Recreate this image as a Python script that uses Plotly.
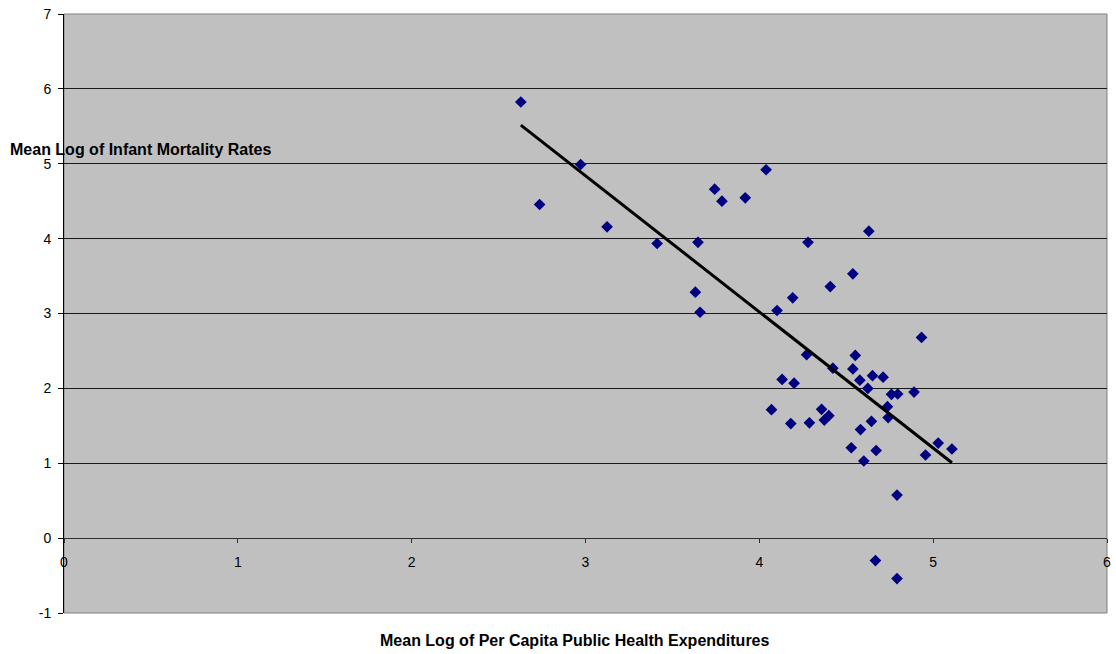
import numpy as np
import plotly.graph_objects as go

# Mean log of per capita public health expenditures
health_exp = [2.628, 2.736, 2.972, 3.124, 3.412, 3.647, 3.632, 3.659, 3.743, 3.785,
              3.919, 4.039, 4.280, 4.102, 4.192, 4.272, 4.630, 4.538, 4.408, 4.933,
              4.552, 4.423, 4.538, 4.131, 4.200, 4.578, 4.651, 4.712, 4.624, 4.760,
              4.796, 4.890, 4.070, 4.358, 4.737, 4.400, 4.374, 4.181, 4.288, 4.741,
              4.645, 4.582, 4.529, 4.672, 4.601, 4.956, 5.029, 5.108, 4.792, 4.668,
              4.792]
# Mean log of infant mortality rates
infant_mort = [5.825, 4.456, 4.990, 4.158, 3.935, 3.950, 3.285, 3.017, 4.660, 4.500,
               4.545, 4.920, 3.950, 3.040, 3.210, 2.450, 4.100, 3.530, 3.360, 2.680,
               2.440, 2.270, 2.260, 2.120, 2.070, 2.110, 2.170, 2.150, 2.000, 1.920,
               1.925, 1.950, 1.715, 1.720, 1.755, 1.635, 1.577, 1.530, 1.540, 1.610,
               1.560, 1.450, 1.207, 1.170, 1.030, 1.110, 1.270, 1.190, 0.575, -0.300,
               -0.540]

x_ticks = [0, 1, 2, 3, 4, 5, 6]
y_ticks = [-1, 0, 1, 2, 3, 4, 5, 6, 7]

x_title = "Mean Log of Per Capita Public Health Expenditures"
y_title = "Mean Log of Infant Mortality Rates"

# Linear trend line (least squares) over data range
slope, intercept = np.polyfit(health_exp, infant_mort, 1)
trend_x = [min(health_exp), max(health_exp)]
trend_y = [intercept + slope * v for v in trend_x]

FONT = "Liberation Sans, Arial, sans-serif"

fig = go.Figure()
fig.add_trace(go.Scatter(
    x=health_exp, y=infant_mort, mode="markers",
    marker=dict(symbol="diamond", size=9, color="#000080",
                line=dict(width=0)),
    showlegend=False, hoverinfo="skip",
))
fig.add_trace(go.Scatter(
    x=trend_x, y=trend_y, mode="lines",
    line=dict(color="black", width=3),
    showlegend=False, hoverinfo="skip",
))

fig.update_layout(
    width=1116, height=654,
    margin=dict(l=64, r=5, t=14, b=41),
    paper_bgcolor="white",
    plot_bgcolor="#C0C0C0",
    font=dict(family=FONT, size=14, color="black"),
    xaxis=dict(
        range=[0, 6], tickvals=x_ticks, ticktext=[str(v) for v in x_ticks],
        showgrid=False, zeroline=False,
        showline=True, linecolor="#303030", linewidth=1,
        ticks="outside", ticklen=4, tickcolor="#303030",
        anchor="free", position=0.125,
        ticklabelstandoff=7,
        tickfont=dict(size=14),
    ),
    yaxis=dict(
        range=[-1, 7], tickvals=y_ticks, ticktext=[str(v) for v in y_ticks],
        showgrid=True, gridcolor="#1a1a1a", gridwidth=1,
        zeroline=False,
        showline=True, linecolor="black", linewidth=1,
        ticks="outside", ticklen=5, tickcolor="black",
        ticklabelstandoff=4,
        tickfont=dict(size=14),
    ),
    shapes=[dict(type="rect", xref="paper", yref="paper", x0=0, x1=1, y0=0, y1=1,
                 line=dict(color="#808080", width=1), layer="below")],
    annotations=[
        dict(text="<b>" + y_title + "</b>", xref="paper", yref="paper",
             x=-0.0536, y=0.773, xanchor="left", yanchor="middle",
             showarrow=False, font=dict(size=16, family=FONT)),
        dict(text="<b>" + x_title + "</b>", xref="paper", yref="paper",
             x=0.490, y=-0.0467, xanchor="center", yanchor="middle",
             showarrow=False, font=dict(size=16, family=FONT)),
    ],
)

fig.write_html("out.html",
               config={"displayModeBar": False},
               post_script="document.body.style.margin='0';document.body.style.overflow='hidden';")
